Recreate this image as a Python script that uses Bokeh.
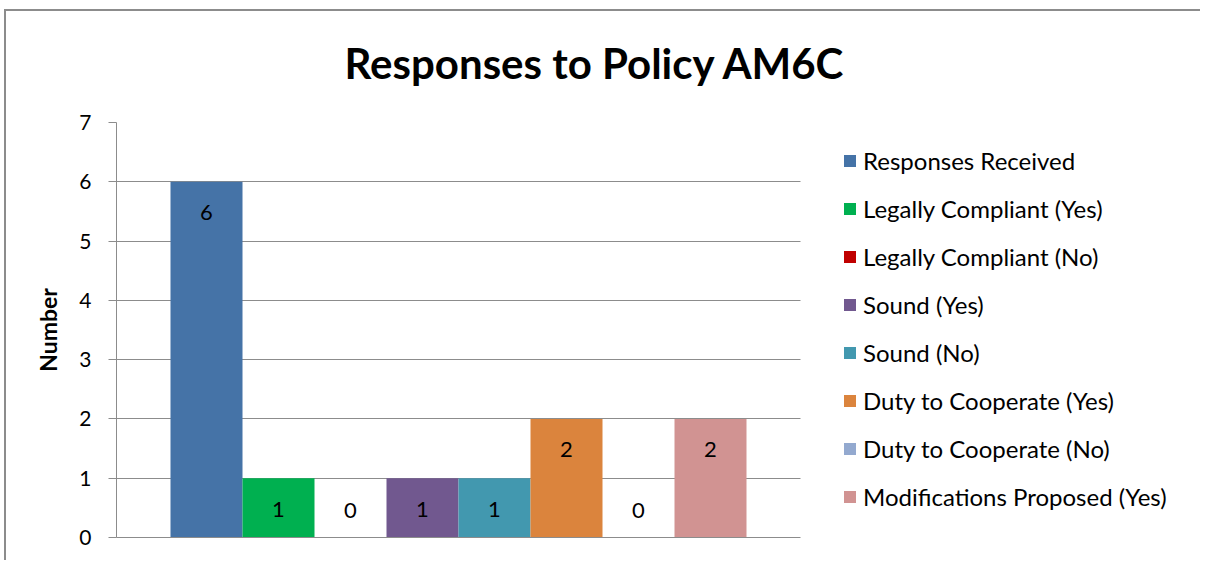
from bokeh.plotting import figure
from bokeh.models import Range1d, ColumnDataSource, Legend, LegendItem, FixedTicker, Title
from bokeh.core.properties import value
from bokeh.embed import file_html
from bokeh.resources import INLINE

title_text = "Responses to Policy AM6C"
y_label = "Number"
series = ["Responses Received", "Legally Compliant (Yes)", "Legally Compliant (No)",
          "Sound (Yes)", "Sound (No)", "Duty to Cooperate (Yes)",
          "Duty to Cooperate (No)", "Modifications Proposed (Yes)"]
values = [6, 1, 0, 1, 1, 2, 0, 2]
colors = ["#4573A7", "#00B050", "#C00000", "#71588F", "#4298AF", "#DB843D", "#93A9CF", "#D19392"]
y_ticks = [0, 1, 2, 3, 4, 5, 6, 7]

FONT = "Lato"
W = 1200
GRAY = "#8C8C8C"
LEFT, RIGHT, BOTTOM = 116, 4, 23
FRAME_W, FRAME_H = W - LEFT - RIGHT, 415
PLOT_PX = 684            # width of the bar area in pixels
BAR_SPAN = 9.5           # bar area in x units (8 bars + gaps)
x_end = BAR_SPAN * FRAME_W / PLOT_PX

p = figure(frame_width=FRAME_W, frame_height=FRAME_H, output_backend="svg", toolbar_location=None,
           x_range=Range1d(0, x_end), y_range=Range1d(0, 7),
           min_border_left=LEFT, min_border_right=RIGHT, min_border_top=0, min_border_bottom=BOTTOM)
p.title = None

main_title = Title(text=title_text, align="left", offset=228, text_font=FONT,
                   text_font_size="42px", text_font_style="bold", text_color="black",
                   standoff=70)
p.add_layout(main_title, "above")

p.outline_line_color = None
p.background_fill_color = "white"
p.border_fill_color = None
p.styles = {
    "background": ("linear-gradient(%s,%s) 4px 9px / 2px 100%% no-repeat, "
                   "linear-gradient(%s,%s) 4px 9px / 100%% 2px no-repeat, white") % (GRAY, GRAY, GRAY, GRAY)
}

# grid (limited to the bar area)
p.xgrid.grid_line_color = None
p.ygrid.grid_line_color = GRAY
p.ygrid.grid_line_width = 1
p.yaxis.ticker = FixedTicker(ticks=y_ticks)
p.ygrid.ticker = FixedTicker(ticks=y_ticks)
for g in p.ygrid:
    if "cross_bounds" in g.properties():
        g.cross_bounds = (0, BAR_SPAN)

# y axis
p.yaxis.axis_line_color = GRAY
p.yaxis.major_tick_line_color = GRAY
p.yaxis.major_tick_out = 8
p.yaxis.major_tick_in = 0
p.yaxis.minor_tick_line_color = None
p.yaxis.major_label_text_font = FONT
p.yaxis.major_label_text_font_size = "21px"
p.yaxis.major_label_text_color = "black"
p.yaxis.major_label_standoff = 17
p.yaxis.axis_label = y_label
p.yaxis.axis_label_text_font = FONT
p.yaxis.axis_label_text_font_size = "23px"
p.yaxis.axis_label_text_font_style = "bold"
p.yaxis.axis_label_text_color = "black"
p.yaxis.axis_label_standoff = 14

# x axis (line only, limited to the bar area)
p.xaxis.axis_line_color = GRAY
p.xaxis.bounds = (0, BAR_SPAN)
p.xaxis.major_tick_line_color = None
p.xaxis.minor_tick_line_color = None
p.xaxis.major_label_text_font_size = "0px"
p.xaxis.ticker = FixedTicker(ticks=[])

xs = [i + 1.25 for i in range(len(values))]
src = ColumnDataSource(dict(x=xs, top=values,
                            label=[str(v) for v in values],
                            yoff=[31 if v > 0 else -27 for v in values]))

items = []
for i, (s, v, c) in enumerate(zip(series, values, colors)):
    r = p.vbar(x=xs[i], top=v, bottom=0, width=1.0, fill_color=c, line_color=None)
    items.append(LegendItem(label=s, renderers=[r]))

p.text(x="x", y="top", text="label", source=src, text_align="center", text_baseline="middle",
       y_offset="yoff", text_font=value(FONT), text_font_size="22px", text_color="black")

legend = Legend(items=items, location=(726, 26), orientation="vertical",
                label_text_font=FONT, label_text_font_size="24px", label_text_color="black",
                glyph_width=15, glyph_height=15, label_standoff=6, label_height=29,
                spacing=19, padding=0, margin=0, border_line_color=None,
                background_fill_alpha=0)
p.add_layout(legend, "center")

open("out.html", "w").write(file_html(p, INLINE))
